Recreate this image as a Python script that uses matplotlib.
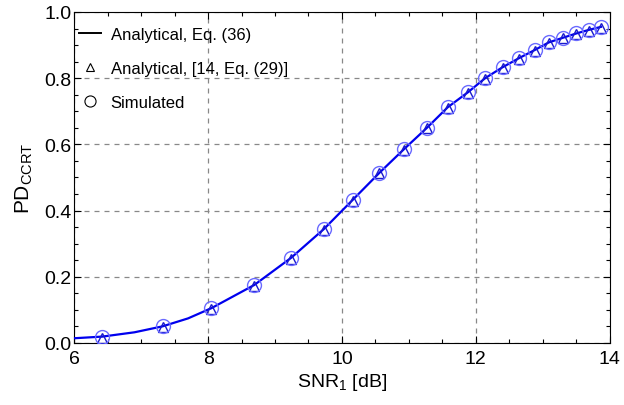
import matplotlib.pyplot as plt
from matplotlib.ticker import MultipleLocator, FormatStrFormatter
from matplotlib.lines import Line2D

plt.rcParams['font.family'] = ['Liberation Sans', 'DejaVu Sans']
plt.rcParams['mathtext.fontset'] = 'custom'
plt.rcParams['mathtext.rm'] = 'Liberation Sans'
plt.rcParams['mathtext.it'] = 'Liberation Sans:italic'

# SNR_1 [dB] sample points and values
snr_db = [6.42, 7.32, 8.05, 8.69, 9.24, 9.73, 10.16, 10.56, 10.93, 11.27, 11.58,
          11.88, 12.14, 12.40, 12.65, 12.88, 13.09, 13.30, 13.50, 13.69, 13.87]
pd_sim = [0.018, 0.050, 0.105, 0.175, 0.257, 0.344, 0.432, 0.514, 0.586, 0.650, 0.712,
          0.757, 0.800, 0.833, 0.861, 0.885, 0.908, 0.922, 0.935, 0.946, 0.955]
pd_ref = [0.016, 0.048, 0.103, 0.173, 0.255, 0.342, 0.430, 0.512, 0.584, 0.648, 0.710,
          0.755, 0.798, 0.831, 0.859, 0.883, 0.906, 0.920, 0.933, 0.944, 0.953]

# analytical curve (Eq. 36)
snr_line = [6.0, 6.42, 6.9, 7.32, 7.7, 8.05, 8.69, 9.24, 9.73, 10.16, 10.56, 10.93, 11.27,
            11.58, 11.88, 12.14, 12.40, 12.65, 12.88, 13.09, 13.30, 13.50, 13.69, 13.87]
pd_line = [0.014, 0.019, 0.032, 0.050, 0.074, 0.105, 0.175, 0.257, 0.344, 0.432, 0.514,
           0.586, 0.650, 0.712, 0.757, 0.800, 0.833, 0.861, 0.885, 0.908, 0.922, 0.935,
           0.946, 0.955]

fig = plt.figure(figsize=(6.24, 4.06), dpi=100)
ax = fig.add_axes([0.119, 0.153, 0.858, 0.815])

ax.plot(snr_line, pd_line, color='#0000ee', lw=1.6, zorder=3)
ax.plot(snr_db, pd_ref, linestyle='none', marker='^', ms=7.5, mfc='none',
        mec='#1a1acc', mew=1.0, zorder=4)
ax.plot(snr_db, pd_sim, linestyle='none', marker='o', ms=10, mfc='none',
        mec='#6a6aff', mew=1.0, zorder=5)

ax.set_xlim(6, 14)
ax.set_ylim(0, 1)
ax.xaxis.set_major_locator(MultipleLocator(2))
ax.xaxis.set_minor_locator(MultipleLocator(0.5))
ax.yaxis.set_major_locator(MultipleLocator(0.2))
ax.yaxis.set_minor_locator(MultipleLocator(0.05))
ax.yaxis.set_major_formatter(FormatStrFormatter('%.1f'))
ax.tick_params(which='both', direction='in', top=True, right=True, labelsize=14)
ax.tick_params(axis='x', pad=5)
ax.tick_params(axis='y', pad=2)
ax.tick_params(which='major', length=5, width=0.8)
ax.tick_params(which='minor', length=3, width=0.8)
ax.grid(True, which='major', linestyle=(0, (4, 4)), color='#888888', lw=0.9)

ax.set_xlabel(r'SNR$_{1}$ [dB]', fontsize=14, labelpad=3)
ax.set_ylabel(r'PD$_{\mathrm{CCRT}}$', fontsize=15, labelpad=7)

handles = [
    Line2D([], [], color='black', lw=1.4),
    Line2D([], [], linestyle='none', marker='^', ms=6, mfc='none', mec='black', mew=0.8),
    Line2D([], [], linestyle='none', marker='o', ms=8, mfc='none', mec='black', mew=0.8),
]
labels = ['Analytical, Eq. (36)', 'Analytical, [14, Eq. (29)]', 'Simulated']
ax.legend(handles, labels, loc='upper left', frameon=False, fontsize=12,
          handlelength=1.3, handletextpad=0.6, labelspacing=1.15,
          borderaxespad=0.2, bbox_to_anchor=(-0.01, 0.985))

fig.savefig('out.png', dpi=100)
